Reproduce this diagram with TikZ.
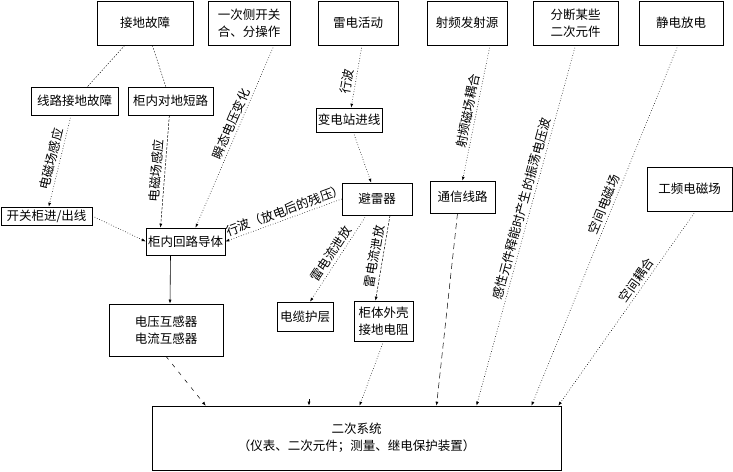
\documentclass[tikz,border=0pt]{standalone}
\usepackage{fontspec}
\setmainfont{Noto Sans CJK SC}
\usepackage{tikz}
\usetikzlibrary{arrows.meta}

\begin{document}
\begin{tikzpicture}[auto, x=1pt, y=-1pt, >={Latex[length=4pt,width=3pt]}, font=\fontsize{12.5}{17}\selectfont]
	\tikzstyle{box} = [draw=black, line width=0.6pt, rectangle, align=center, inner sep=1pt]
	\tikzstyle{lbl} = [sloped, above, inner sep=2.5pt]
	\tikzstyle{dots} = [dotted, line width=0.6pt]
	\tikzstyle{shortdash} = [dash pattern=on 2.5pt off 1.5pt, line width=0.5pt]

	\useasboundingbox (0, 0) rectangle (733, 471);

	\node[box, minimum width=96pt, minimum height=44pt]		at (145, 23)		(jd)	{接地故障};
	\node[box, minimum width=82pt, minimum height=44pt]		at (249, 23)		(yc)	{一次侧开关\\合、分操作};
	\node[box, minimum width=80pt, minimum height=44pt]		at (358, 23)		(ld)	{雷电活动};
	\node[box, minimum width=80pt, minimum height=44pt]		at (467, 23)		(sp)	{射频发射源};
	\node[box, minimum width=85pt, minimum height=44pt]		at (575.5, 23)		(fd)	{分断某些\\二次元件};
	\node[box, minimum width=84pt, minimum height=44pt]		at (681, 23)		(jdd)	{静电放电};
	\node[box, minimum width=87pt, minimum height=28pt]		at (74.5, 101)		(xl)	{线路接地故障};
	\node[box, minimum width=85pt, minimum height=28pt]		at (170.5, 101)		(gn)	{柜内对地短路};
	\node[box, minimum width=66pt, minimum height=24pt]		at (349, 120)		(bz)	{变电站进线};
	\node[box, minimum width=91pt, minimum height=18pt]		at (46.5, 216)		(kg)	{开关柜进/出线};
	\node[box, minimum width=79pt, minimum height=27pt]		at (185.5, 241.5)	(gd)	{柜内回路导体};
	\node[box, minimum width=70pt, minimum height=32pt]		at (377, 199)		(blq)	{避雷器};
	\node[box, minimum width=65pt, minimum height=32pt]		at (462.5, 197)		(tx)	{通信线路};
	\node[box, minimum width=85pt, minimum height=44pt]		at (689.5, 189)		(gp)	{工频电磁场};
	\node[box, minimum width=114pt, minimum height=52pt]	at (166, 330)		(dy)	{电压互感器\\电流互感器};
	\node[box, minimum width=56pt, minimum height=29pt]		at (305, 316.5)		(dl)	{电缆护层};
	\node[box, minimum width=59pt, minimum height=40pt]		at (383.5, 321)		(gt)	{柜体外壳\\接地电阻};
	\node[box, minimum width=409pt, minimum height=64pt]	at (356.5, 438)		(ec)	{二次系统\\（仪表、二次元件；测量、继电保护装置）};
	\coordinate (dlx) at (309, 399);

	\path[->]
	(jd)						edge[-, dash pattern=on 1.5pt off 1.5pt]	(xl)
	(jd)						edge[-, dash pattern=on 1.5pt off 1.5pt]	(gn)
	(xl)						edge[dots]		node[lbl]			{电磁场感应}		(kg)
	(gn)						edge[shortdash]	node[lbl]			{电磁场感应}		([xshift=-25pt]gd.north)
	([xshift=25pt]yc.south)		edge[dots]		node[lbl, pos=.45]	{瞬态电压变化}		([xshift=10pt]gd.north)
	([xshift=4pt]ld.south)		edge[dots]		node[lbl, pos=.6]	{行波}				(bz)
	(bz)						edge[dots]										(blq)
	(blq.west)					edge[dots]		node[lbl, pos=.46]	{行波（放电后的残压）}	(gd.east)
	(blq)						edge[dots]		node[lbl]			{雷电流泄放}		([xshift=5pt]dl.north)
	([xshift=13pt]blq.south)	edge[shortdash]	node[lbl]			{雷电流泄放}		([xshift=-8pt]gt.north)
	([xshift=23pt]sp.south)		edge[dots]		node[lbl]			{射频磁场耦合}		(tx.north)
	([xshift=-5pt]tx.south)		edge[dash pattern=on 6pt off 4pt, line width=0.5pt]		([xshift=80pt]ec.north)
	(fd.south)					edge[dots]		node[lbl, pos=.46]	{感性元件释能时产生的振荡电压波}	([xshift=120pt]ec.north)
	([xshift=-3pt]jdd.south)	edge[dots]		node[lbl, pos=.45]	{空间电磁场}		([xshift=175pt]ec.north)
	([xshift=6pt]gp.south)		edge[dots]		node[lbl, pos=.38]	{空间耦合}			([xshift=-3pt]ec.north east)
	(kg.east)					edge[dots]										(gd.west)
	([xshift=-15pt]gd.south)	edge[line width=0.6pt]							([xshift=4pt]dy.north)
	(dy.south)					edge[dash pattern=on 4pt off 6pt, line width=0.5pt]		([xshift=54pt]ec.north west)
	(gt.south)					edge[dots]										([xshift=3pt]ec.north)
	(dlx)						edge[line width=0.5pt]							([xshift=-47.5pt]ec.north);
\end{tikzpicture}
\end{document}
